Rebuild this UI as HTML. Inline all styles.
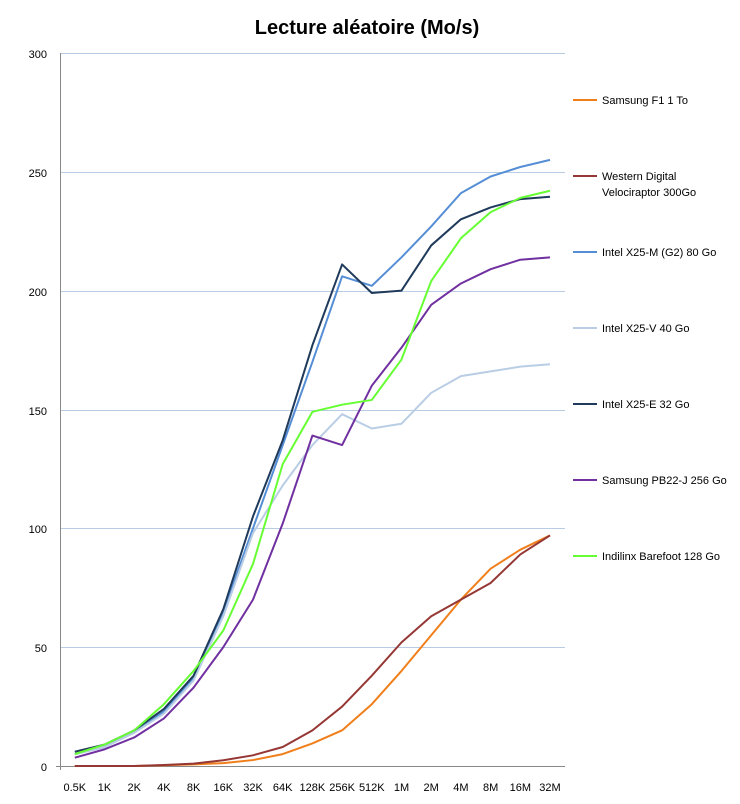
<!DOCTYPE html>
<html><head><meta charset="utf-8"><style>body{margin:0;background:#fff}svg{display:block}text{font-family:"Liberation Sans",sans-serif}</style></head><body>
<svg width="740" height="804" xmlns="http://www.w3.org/2000/svg">
<rect width="740" height="804" fill="#fff"/>
<text x="367" y="34" text-anchor="middle" font-size="20" font-weight="bold">Lecture aléatoire (Mo/s)</text>
<g stroke="#b8cce4" stroke-width="1">
<line x1="60" y1="53.5" x2="565" y2="53.5"/><line x1="60" y1="172.5" x2="565" y2="172.5"/><line x1="60" y1="291.5" x2="565" y2="291.5"/><line x1="60" y1="410.5" x2="565" y2="410.5"/><line x1="60" y1="528.5" x2="565" y2="528.5"/><line x1="60" y1="647.5" x2="565" y2="647.5"/>
</g>
<line x1="60.5" y1="53" x2="60.5" y2="770" stroke="#888"/>
<line x1="56" y1="766.5" x2="565" y2="766.5" stroke="#888"/>
<g font-size="11" text-anchor="end">
<text x="47" y="58">300</text><text x="47" y="177">250</text><text x="47" y="296">200</text><text x="47" y="415">150</text><text x="47" y="533">100</text><text x="47" y="652">50</text><text x="47" y="771">0</text>
</g>
<g font-size="11" text-anchor="middle" id="xl"></g>
<g fill="none" stroke-width="2" stroke-linejoin="round" id="series"></g>
<g font-size="11" id="leg"></g>
<script>
var NS="http://www.w3.org/2000/svg";
var labels=["0.5K","1K","2K","4K","8K","16K","32K","64K","128K","256K","512K","1M","2M","4M","8M","16M","32M"];
function X(i){return 74.8+i*29.7}
function Y(v){return 766-v*2.377}
var xl=document.getElementById("xl");
labels.forEach(function(l,i){var t=document.createElementNS(NS,"text");t.setAttribute("x",X(i));t.setAttribute("y",791);t.textContent=l;xl.appendChild(t);});
var S=[
["Samsung F1 1 To","#f07f1b",[0,0,0,0.3,0.7,1.2,2.5,5,9.5,15,26,40,55,70,83,91,97],104],
["Western Digital|Velociraptor 300Go","#953734",[0,0,0,0.4,1,2.4,4.5,8,15,25,38,52,63,70,77,89,97],180],
["Intel X25-M (G2) 80 Go","#558ed5",[5,8,14,23,37,65,100,135,170,206,202,214,227,241,248,252,255],256],
["Intel X25-V 40 Go","#b9cde5",[5,8,14,22,36,63,98,118,135,148,142,144,157,164,166,168,169],332],
["Intel X25-E 32 Go","#1f3a5a",[6,9,15,24,38,66,105,137,177,211,199,200,219,230,235,238.5,239.5],408],
["Samsung PB22-J 256 Go","#7030a0",[3.5,7,12,20,33,50,70,102,139,135,160,176,194,203,209,213,214],484],
["Indilinx Barefoot 128 Go","#66ff33",[5,9,15,26,40,57,85,127,149,152,154,171,204,222,233,239,242],560]];
var sg=document.getElementById("series"),lg=document.getElementById("leg");
S.forEach(function(s){
 var p=document.createElementNS(NS,"polyline");
 p.setAttribute("points",s[2].map(function(v,i){return X(i)+","+Y(v)}).join(" "));
 p.setAttribute("stroke",s[1]);sg.appendChild(p);
 var l=document.createElementNS(NS,"line");l.setAttribute("x1",573);l.setAttribute("x2",597);l.setAttribute("y1",s[3]-4);l.setAttribute("y2",s[3]-4);l.setAttribute("stroke",s[1]);l.setAttribute("stroke-width",2);lg.appendChild(l);
 s[0].split("|").forEach(function(line,k){var t=document.createElementNS(NS,"text");t.setAttribute("x",602);t.setAttribute("y",s[3]+k*16);t.textContent=line;lg.appendChild(t);});
});
</script>
</svg>
</body></html>
